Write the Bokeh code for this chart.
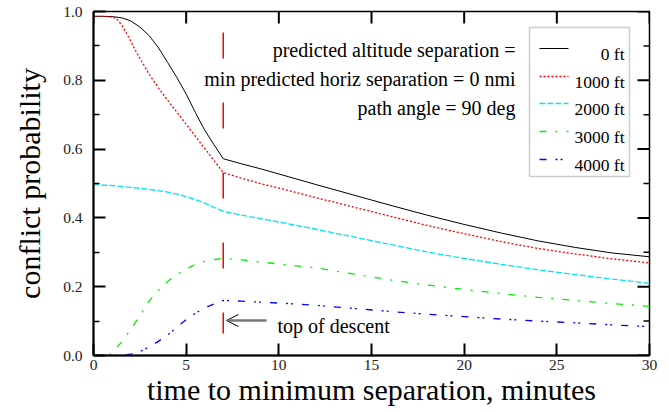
from bokeh.plotting import figure
from bokeh.models import (FixedTicker, Label, Arrow, OpenHead, BoxAnnotation, Range1d)
from bokeh.embed import file_html
from bokeh.resources import INLINE

# ---------------- data ----------------
x_ticks = [0, 5, 10, 15, 20, 25, 30]
x_tick_labels = ["0", "5", "10", "15", "20", "25", "30"]
y_ticks = [0.0, 0.2, 0.4, 0.6, 0.8, 1.0]
y_tick_labels = ["0.0", "0.2", "0.4", "0.6", "0.8", "1.0"]
y_minor_ticks = [0.1, 0.3, 0.5, 0.7, 0.9]

series_labels = ["0 ft", "1000 ft", "2000 ft", "3000 ft", "4000 ft"]

t_0ft = [0, 0.5, 1.0, 1.5, 2.0, 2.5, 3.0, 3.5, 4.0, 4.5, 5.0, 5.5, 6.0, 6.5, 7.0,
         8, 9, 10.5, 12, 14, 16, 18, 20, 22, 24, 26, 28, 30]
p_0ft = [0.986, 0.986, 0.985, 0.982, 0.973, 0.955, 0.930, 0.895, 0.852, 0.808, 0.760, 0.706, 0.655, 0.613, 0.572,
         0.557, 0.543, 0.520, 0.497, 0.467, 0.437, 0.408, 0.381, 0.356, 0.333, 0.314, 0.298, 0.287]

t_1000ft = [0, 0.5, 1.0, 1.25, 1.5, 1.75, 2.0, 2.25, 2.5, 3.0, 3.5, 4.0, 4.5, 5.0, 5.5, 6.0, 6.5, 7.0,
            8, 9, 10.5, 12, 14, 16, 18, 20, 22, 24, 26, 28, 30]
p_1000ft = [0.986, 0.986, 0.984, 0.979, 0.962, 0.940, 0.915, 0.888, 0.864, 0.818, 0.778, 0.742, 0.707, 0.672,
            0.637, 0.602, 0.567, 0.532,
            0.515, 0.500, 0.480, 0.459, 0.432, 0.405, 0.378, 0.354, 0.331, 0.311, 0.295, 0.281, 0.269]

t_2000ft = [0, 1, 2, 3, 4, 4.5, 5, 5.5, 6, 6.5, 7,
            8, 10.5, 12, 14, 16, 18, 20, 22, 24, 26, 28, 30]
p_2000ft = [0.497, 0.494, 0.489, 0.483, 0.475, 0.469, 0.462, 0.453, 0.443, 0.431, 0.419,
            0.408, 0.383, 0.367, 0.345, 0.323, 0.301, 0.282, 0.265, 0.249, 0.235, 0.222, 0.210]

t_3000ft = [0, 0.8, 1.0, 1.5, 2.0, 2.5, 3.0, 3.5, 4.0, 4.5, 5.0, 5.5, 6.0, 6.5, 7.0,
            8, 10.5, 12, 14, 16, 18, 20, 22, 24, 26, 28, 30]
p_3000ft = [0.0, 0.0, 0.008, 0.038, 0.075, 0.116, 0.158, 0.190, 0.215, 0.236, 0.252, 0.265, 0.274, 0.279, 0.282,
            0.278, 0.263, 0.255, 0.237, 0.220, 0.205, 0.192, 0.180, 0.169, 0.160, 0.151, 0.143]

t_4000ft = [0, 1.5, 2.0, 2.5, 3.0, 3.5, 4.0, 4.5, 5.0, 5.5, 6.0, 6.5, 7.0,
            8, 10.5, 12, 14, 16, 18, 20, 22, 24, 26, 28, 30]
p_4000ft = [0.0, 0.0, 0.004, 0.011, 0.025, 0.041, 0.060, 0.082, 0.104, 0.123, 0.138, 0.150, 0.160,
            0.158, 0.151, 0.146, 0.137, 0.128, 0.120, 0.113, 0.106, 0.100, 0.095, 0.089, 0.084]

top_of_descent_t = 7.0

# ---------------- styles ----------------
colors = ["black", "#ff0000", "#00e5ee", "#00ee00", "#0000ff"]
dashes = ["solid", "2 2", "6 2", "7 9 2 9", "7 9 2 3 2 9"]
widths = [1.0, 1.3, 1.3, 1.3, 1.3]
FONT = "Liberation Serif"

W, H = 669, 412
FL, FR, FT, FB = 93, 649, 11, 355
X0, X1, Y0, Y1 = 0.0, 30.0, 0.0, 1.0


def dx(px):
    return X0 + (X1 - X0) * (px - FL) / (FR - FL)


def dy(py):
    return Y0 + (Y1 - Y0) * (FB - py) / (FB - FT)


p = figure(width=W, height=H, x_range=Range1d(X0, X1), y_range=Range1d(Y0, Y1),
           output_backend="svg", toolbar_location=None,
           min_border_left=FL, min_border_right=W - FR,
           min_border_top=FT, min_border_bottom=H - FB,
           background_fill_color="white", border_fill_color="white")
p.xgrid.visible = False
p.ygrid.visible = False
p.outline_line_color = "black"
p.outline_line_width = 1.5

xt = FixedTicker(ticks=x_ticks, minor_ticks=[])
yt = FixedTicker(ticks=y_ticks, minor_ticks=y_minor_ticks)


def style_axis(ax):
    ax.axis_line_color = "black"
    ax.axis_line_width = 2
    ax.major_tick_in = 12
    ax.major_tick_out = 0
    ax.minor_tick_in = 6
    ax.minor_tick_out = 0
    ax.major_tick_line_width = 2
    ax.minor_tick_line_width = 1.5
    ax.major_tick_line_color = "black"
    ax.minor_tick_line_color = "black"
    ax.major_label_text_font = FONT
    ax.major_label_text_color = "#222222"
    ax.major_label_text_font_size = "15.5px"
    ax.axis_label_text_font = FONT
    ax.axis_label_text_font_style = "normal"
    ax.axis_label_text_color = "black"
    ax.axis_label_text_font_size = "30px"


xa = p.xaxis[0]
xa.ticker = xt
xa.major_label_overrides = {t: s for t, s in zip(x_ticks, x_tick_labels)}
style_axis(xa)
xa.major_label_standoff = 4
xa.axis_label = "time to minimum separation, minutes"
xa.axis_label_standoff = 0

ya = p.yaxis[0]
ya.ticker = yt
ya.major_label_overrides = {t: s for t, s in zip(y_ticks, y_tick_labels)}
style_axis(ya)
ya.major_label_standoff = 11
ya.axis_label = "conflict probability"
ya.axis_label_standoff = 14

# mirrored inward ticks on the top and right edges
p.segment(x0=x_ticks, y0=[Y1] * len(x_ticks), x1=x_ticks, y1=[dy(FT + 12)] * len(x_ticks),
          line_color="black", line_width=2)
p.segment(x0=[X1] * len(y_ticks), y0=y_ticks, x1=[dx(FR - 12)] * len(y_ticks), y1=y_ticks,
          line_color="black", line_width=2)
p.segment(x0=[X1] * len(y_minor_ticks), y0=y_minor_ticks,
          x1=[dx(FR - 6)] * len(y_minor_ticks), y1=y_minor_ticks,
          line_color="black", line_width=1.5)

# ---------------- curves ----------------
series = [(t_0ft, p_0ft), (t_1000ft, p_1000ft), (t_2000ft, p_2000ft),
          (t_3000ft, p_3000ft), (t_4000ft, p_4000ft)]
for (tx, py), c, d, w in zip(series, colors, dashes, widths):
    p.line(tx, py, line_color=c, line_dash=d, line_width=w)

# top of descent marker
p.segment(x0=[top_of_descent_t], y0=[dy(32)], x1=[top_of_descent_t], y1=[dy(333)],
          line_color="#ff0000", line_width=1.5, line_dash="26 44")

p.add_layout(Arrow(end=OpenHead(size=12, line_color="black", line_width=1),
                   x_start=dx(266), y_start=dy(320), x_end=dx(226), y_end=dy(320),
                   line_color="#777777", line_width=2.5))
p.add_layout(Label(x=dx(277), y=dy(325), text="top of descent", text_font=FONT,
                   text_font_size="20px", text_baseline="alphabetic", text_color="black"))

# annotation text block
notes = ["predicted altitude separation =",
         "min predicted horiz separation = 0 nmi",
         "path angle = 90 deg"]
for s, by in zip(notes, [49, 78, 107]):
    p.add_layout(Label(x=dx(515), y=dy(by), text=s, text_font=FONT, text_font_size="20px",
                       text_align="right", text_baseline="alphabetic", text_color="black"))

# legend (manual, right-aligned labels)
p.add_layout(BoxAnnotation(left=dx(529), right=dx(629), top=dy(27), bottom=dy(176),
                           fill_color="white", fill_alpha=1.0,
                           line_color="#555555", line_width=1.5, level="underlay"))
sample_y = [48, 76, 103, 131, 159]
for lab, c, d, w, sy in zip(series_labels, colors, dashes, widths, sample_y):
    p.segment(x0=[dx(539)], y0=[dy(sy)], x1=[dx(568)], y1=[dy(sy)],
              line_color=c, line_dash=d, line_width=w)
    p.add_layout(Label(x=dx(624), y=dy(sy + 5), text=lab, text_font=FONT,
                       text_font_size="17.5px", text_align="right",
                       text_baseline="alphabetic", text_color="black"))

open("out.html", "w").write(file_html(p, INLINE))
